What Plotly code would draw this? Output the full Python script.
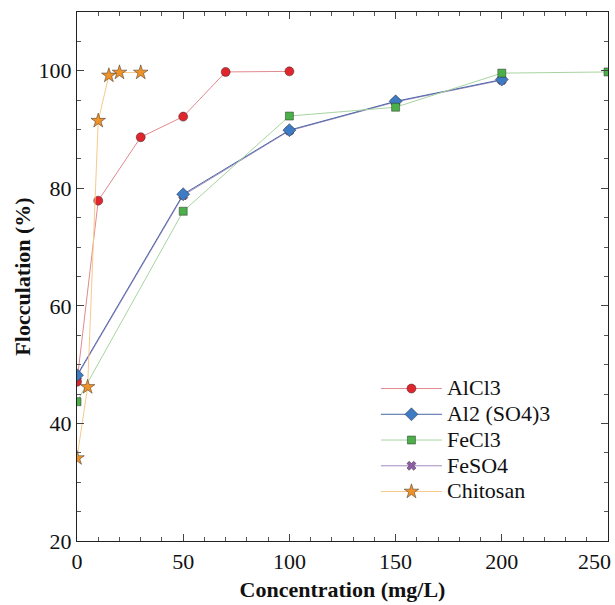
import plotly.graph_objects as go

# Data
alcl3_x = [0, 10, 30, 50, 70, 100]
alcl3_y = [47.1, 77.9, 88.7, 92.2, 99.8, 99.9]

al2so4_x = [0, 50, 100, 150, 200]
al2so4_y = [48.2, 79.0, 89.9, 94.8, 98.5]

fecl3_x = [0, 50, 100, 150, 200, 250]
fecl3_y = [43.7, 76.1, 92.3, 93.8, 99.6, 99.8]

feso4_x = [0, 50, 100, 150, 200]
feso4_y = [48.0, 78.8, 89.8, 94.7, 98.4]

chitosan_x = [0, 5, 10, 15, 20, 30]
chitosan_y = [34.1, 46.2, 91.5, 99.2, 99.7, 99.7]

x_ticks = [0, 50, 100, 150, 200, 250]
y_ticks = [20, 40, 60, 80, 100]

FONT = "Liberation Serif, Times New Roman, serif"

fig = go.Figure()

def add(name, x, y, line_color, marker_color, symbol, size, rank):
    fig.add_trace(go.Scatter(
        x=x, y=y, name='<span style="font-size:22px">%s</span>' % name,
        mode="lines+markers", legendrank=rank,
        line=dict(color=line_color, width=1),
        marker=dict(symbol=symbol, size=size, color=marker_color,
                    line=dict(color="rgba(40,40,40,0.6)", width=0.8)),
    ))

# FeSO4 drawn first so it sits beneath the Al2(SO4)3 markers
add("FeSO4", feso4_x, feso4_y, "#a58ac0", "#8e5ea6", "x", 8, 4)
add("AlCl3", alcl3_x, alcl3_y, "#e08a90", "#e0262c", "circle", 9, 1)
add("Al2 (SO4)3", al2so4_x, al2so4_y, "#4a68a8", "#3d7cc4", "diamond", 10, 2)
add("FeCl3", fecl3_x, fecl3_y, "#a8d4a0", "#4bb04a", "square", 8, 3)
add("Chitosan", chitosan_x, chitosan_y, "#f7c98a", "#f0922a", "star", 11, 5)

axis_common = dict(
    showline=True, linecolor="#222", linewidth=1.3, mirror="ticks",
    ticks="inside", ticklen=7, tickwidth=1, tickcolor="#444",
    showgrid=False, zeroline=False, automargin=False,
    tickfont=dict(family=FONT, size=22, color="#111"),
)

# last x label is right-aligned to the axis end (as in the original) so it stays on the page
x_ticktext = [str(v) for v in x_ticks]
last_label = x_ticktext[-1]
x_ticktext[-1] = ""

fig.update_xaxes(
    range=[0, 250], tickvals=x_ticks, ticktext=x_ticktext,
    minor=dict(dtick=10, tick0=0, ticks="inside", ticklen=4, tickcolor="#555", tickwidth=1),
    title=dict(text="<b>Concentration (mg/L)</b>", font=dict(family=FONT, size=22, color="#111"), standoff=9),
    **axis_common,
)
fig.update_yaxes(
    range=[20, 110], tickvals=y_ticks, ticktext=[str(v) for v in y_ticks],
    minor=dict(dtick=5, tick0=0, ticks="inside", ticklen=4, tickcolor="#555", tickwidth=1),
    title=dict(text="<b>Flocculation (%)</b>", font=dict(family=FONT, size=22, color="#111"), standoff=1),
    **axis_common,
)

fig.add_annotation(
    x=x_ticks[-1], xref="x", y=0, yref="paper",
    text=last_label, showarrow=False,
    xanchor="right", yanchor="middle", xshift=5, yshift=-20,
    font=dict(family=FONT, size=22, color="#111"),
)

fig.update_layout(
    width=615, height=605,
    margin=dict(l=77, r=7, t=12, b=64),
    paper_bgcolor="white", plot_bgcolor="white",
    showlegend=True,
    legend=dict(
        x=0.563, y=0.322, xanchor="left", yanchor="top",
        font=dict(family=FONT, size=17.5, color="#111"),
        bgcolor="rgba(0,0,0,0)", tracegroupgap=0, itemwidth=61,
    ),
)

fig.write_html(
    "out.html",
    config={"displayModeBar": False},
    post_script="document.body.style.margin='0';document.body.style.overflow='hidden';",
)
